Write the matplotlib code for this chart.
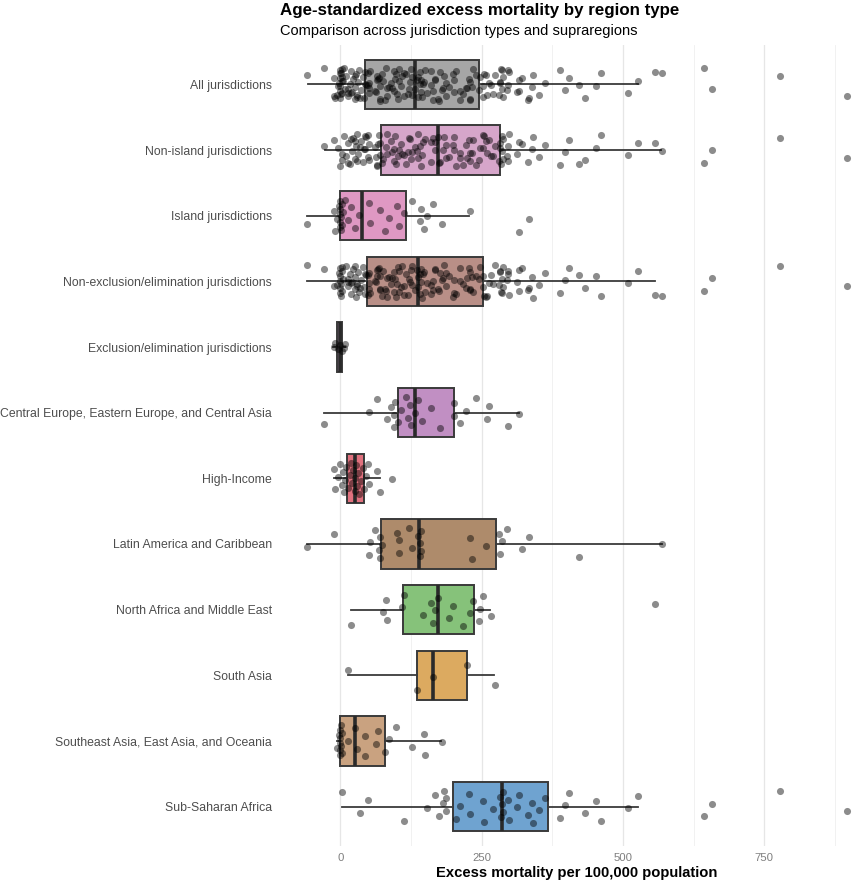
import matplotlib
matplotlib.use("Agg")
from matplotlib import pyplot as plt

plt.rcParams['font.family'] = ['Liberation Sans', 'DejaVu Sans']

# excess mortality per 100,000, by supraregion
ceeca = [-29, 50, 64, 83, 89, 94, 94, 97, 101, 107, 116, 119, 123, 125, 131, 137,
         145, 160, 176, 200, 201, 212, 222, 240, 260, 262, 297, 316]
high_income = [-12, -10, -5, 0, 2, 4, 6, 8, 10, 13, 16, 19, 20, 22, 25, 26, 28, 30,
               31, 33, 36, 39, 42, 45, 48, 51, 65, 70, 92]
latam = [-59, -12, 50, 52, 61, 69, 70, 70, 74, 100, 103, 104, 122, 126, 137, 141, 141,
         143, 143, 229, 233, 258, 281, 282, 286, 294, 321, 334, 422, 569]
name = [19, 76, 80, 82, 108, 112, 146, 161, 164, 167, 173, 192, 199, 216, 229, 235,
        245, 246, 252, 266, 556]
south_asia = [13, 136, 164, 224, 273]
seao = [-6, -2, -1, 0, 0, 0, 0, 1, 1, 2, 3, 14, 26, 29, 43, 44, 62, 66, 79, 86, 98,
        126, 148, 149, 180]
ssa = [2, 34, 49, 112, 153, 167, 174, 181, 183, 186, 187, 205, 212, 227, 230, 252,
       254, 270, 283, 284, 285, 287, 288, 296, 298, 312, 316, 332, 338, 341, 352, 361,
       388, 398, 404, 432, 452, 461, 508, 527, 644, 657, 777, 896]

island = [-59, -12, -10, -6, -2, -1, 0, 0, 0, 0, 1, 1, 2, 3, 4, 8, 14, 19, 26, 33,
          50, 52, 70, 79, 86, 100, 104, 112, 126, 141, 143, 148, 153, 164, 180, 229,
          316, 334]
exclusion = [-12, -10, -5, 0, 2, 6, 8]

labels = ["All jurisdictions", "Non-island jurisdictions", "Island jurisdictions",
          "Non-exclusion/elimination jurisdictions", "Exclusion/elimination jurisdictions",
          "Central Europe, Eastern Europe, and Central Asia", "High-Income",
          "Latin America and Caribbean", "North Africa and Middle East", "South Asia",
          "Southeast Asia, East Asia, and Oceania", "Sub-Saharan Africa"]

# box statistics as drawn in the chart
q1 = [43, 71, 0, 47.5, -5.9, 101, 11.7, 71.6, 111.5, 135.6, 0, 199.5]
med = [131, 173, 38, 136.7, -1, 131.5, 26.4, 138.5, 173, 164, 26, 286.6]
q3 = [245, 281.6, 115.6, 252, 2.3, 200.7, 42.3, 275.8, 236, 224, 79.5, 368]
whislo = [-58, -28, -59, -59, -13, -29, -11.7, -59, 18.8, 13, -5.7, 2]
whishi = [527, 568, 228, 557, 8, 315.7, 70, 568.7, 265, 272, 178.7, 527]

colors = ['#a6a6a6', '#d6a6ca', '#df98c3', '#b98f87', '#b58db7', '#c18fc3',
          '#e0717e', '#ae8b6b', '#86c27a', '#dcaa60', '#c9a280', '#6fa3d0']


def without(pool, drop):
    out = list(pool)
    for v in drop:
        out.remove(v)
    return out


all_j = ceeca + high_income + latam + name + south_asia + seao + ssa
rows = [all_j, without(all_j, island), island, without(all_j, exclusion), exclusion,
        ceeca, high_income, latam, name, south_asia, seao, ssa]

fig = plt.figure(figsize=(8.53, 8.80), dpi=100)
ax = fig.add_axes([280 / 853, 34 / 880, 594 / 853, 801 / 880])

stats = []
for i, lab in enumerate(labels):
    stats.append({'label': lab, 'q1': q1[i], 'med': med[i], 'q3': q3[i],
                  'whislo': whislo[i], 'whishi': whishi[i]})

pos = list(range(len(labels)))
bp = ax.bxp(stats, positions=pos, widths=0.75, orientation='horizontal',
            showfliers=False, showcaps=False, patch_artist=True,
            boxprops=dict(edgecolor='#3a3a3a', linewidth=1.4),
            medianprops=dict(color='#2a2a2a', linewidth=2.6),
            whiskerprops=dict(color='#3a3a3a', linewidth=1.3))
for patch, c in zip(bp['boxes'], colors):
    patch.set_facecolor(c)

# jittered points (narrow spread for the exclusion group only)
for r, vals in enumerate(rows):
    spread = 0.15 if r == 4 else 0.5
    ys = [r + ((k * 0.618034 + 0.37 * r) % 1 - 0.5) * spread for k in range(len(vals))]
    ax.scatter(vals, ys, s=26, color='black', alpha=0.45, linewidths=0, zorder=3)

ax.set_xlim(-107, 944)
ax.set_ylim(len(labels) - 0.4, -0.6)
ax.set_yticks(pos)
ax.set_yticklabels(labels, fontsize=8.85, color='#4d4d4d')
ax.set_xticks([0, 250, 500, 750])
ax.set_xticks([125, 375, 625, 875], minor=True)
ax.tick_params(axis='x', length=0, labelsize=8.2, labelcolor='#7f7f7f', pad=5, which='both')
ax.tick_params(axis='y', length=0, pad=6)
ax.grid(axis='x', which='major', color='#e6e6e6', linewidth=0.9)
ax.grid(axis='x', which='minor', color='#efefef', linewidth=0.6)
ax.set_axisbelow(True)
for sp in ax.spines.values():
    sp.set_visible(False)

ax.set_xlabel("Excess mortality per 100,000 population", fontsize=10.6,
              fontweight='bold', labelpad=2)

fig.text(280 / 853, 1 - 11 / 880, "Age-standardized excess mortality by region type",
         fontsize=12.2, fontweight='bold', va='center', ha='left')
fig.text(280 / 853, 1 - 31 / 880, "Comparison across jurisdiction types and supraregions",
         fontsize=10.5, va='center', ha='left')

fig.savefig("out.png", dpi=100)
